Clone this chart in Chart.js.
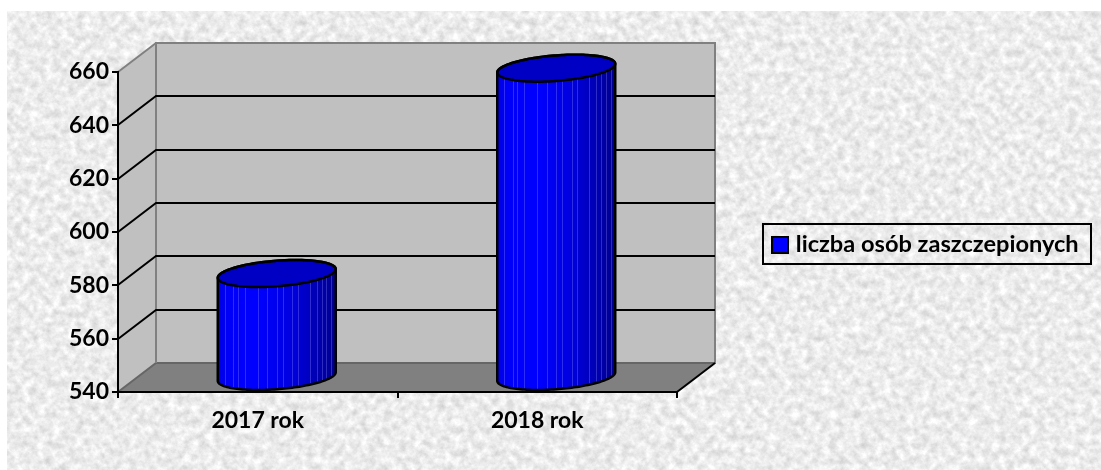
<!DOCTYPE html>
<html lang="pl">
<head>
<meta charset="utf-8">
<title>liczba osób zaszczepionych</title>
<script src="https://cdn.jsdelivr.net/npm/chart.js@4"></script>
<style>
html,body{margin:0;padding:0;background:#fff;width:1101px;height:470px;overflow:hidden}
#tex{position:absolute;left:7px;top:11px;width:1094px;height:459px;
background-image:url("data:image/svg+xml,%3Csvg xmlns='http://www.w3.org/2000/svg' width='1094' height='459'%3E%3Cfilter id='n' x='0' y='0' width='100%25' height='100%25' color-interpolation-filters='sRGB'%3E%3CfeTurbulence type='fractalNoise' baseFrequency='0.13' numOctaves='4' seed='7'/%3E%3CfeColorMatrix values='0.26 0 0 0 0.795 0.26 0 0 0 0.795 0.26 0 0 0 0.795 0 0 0 0 1'/%3E%3C/filter%3E%3Crect width='1094' height='459' filter='url(%23n)'/%3E%3C/svg%3E")}
#c{position:absolute;left:0;top:0}
</style>
</head>
<body>
<div id="tex"></div>
<canvas id="c" width="1101" height="470"></canvas>
<script>
const categories = ['2017 rok', '2018 rok'];
const seriesName = 'liczba osób zaszczepionych';
const seriesValues = [579, 656];
const axisMin = 540, axisMax = 660, axisStep = 20;

const TICK_FONT = {family: 'Lato, "Open Sans", sans-serif', size: 23, weight: 'bold'};
const LEGEND_FONT = {family: 'Lato, "Open Sans", sans-serif', size: 23.6, weight: 'bold'};
const DX = 38, DY = -29;                 // depth of the 3D box
const STRIPES = [.06,.13,.17,.23,.34,.42,.5,.55,.63,.68,.78,.84,.88,.92,.96];

function poly(ctx, pts){ ctx.beginPath(); pts.forEach((p,i)=> i?ctx.lineTo(p[0],p[1]):ctx.moveTo(p[0],p[1])); ctx.closePath(); }

const box3d = {
  id: 'box3d',
  afterLayout(chart){
    const l = chart.legend;
    l.left = 763; l.right = 1091; l.top = 224; l.bottom = 264;
    l.width = 328; l.height = 40;
  },
  beforeDraw(chart){
    const {ctx, chartArea:{left:L,right:R,top:T,bottom:B}, scales:{y}} = chart;
    ctx.save();
    ctx.fillStyle = '#c0c0c0';
    ctx.strokeStyle = '#808080';
    ctx.lineWidth = 2;
    poly(ctx, [[L,T],[L+DX,T+DY],[L+DX,B+DY],[L,B]]); ctx.fill();
    poly(ctx, [[L+DX,T+DY],[R+DX,T+DY],[R+DX,B+DY],[L+DX,B+DY]]); ctx.fill(); ctx.stroke();
    ctx.beginPath(); ctx.moveTo(L,T); ctx.lineTo(L+DX,T+DY); ctx.stroke();
    ctx.fillStyle = '#808080';
    poly(ctx, [[L,B],[L+DX,B+DY],[R+DX,B+DY],[R,B]]); ctx.fill();
    ctx.strokeStyle = '#666666';
    ctx.beginPath(); ctx.moveTo(L,B); ctx.lineTo(L+DX,B+DY); ctx.lineTo(R+DX,B+DY); ctx.stroke();
    ctx.strokeStyle = '#808080';
    ctx.beginPath(); ctx.moveTo(L+DX,T+DY); ctx.lineTo(L+DX,B+DY); ctx.stroke();
    ctx.strokeStyle = '#000';
    y.ticks.forEach(t=>{
      if(t.value===axisMin || t.value===axisMax) return;
      const py = Math.round(y.getPixelForValue(t.value));
      ctx.beginPath(); ctx.moveTo(L,py); ctx.lineTo(L+DX,py+DY); ctx.lineTo(R+DX,py+DY); ctx.stroke();
    });
    ctx.beginPath(); ctx.moveTo(R,B); ctx.lineTo(R+DX,B+DY); ctx.stroke();
    ctx.restore();
  },
  beforeDatasetDraw(chart, args){
    const {ctx, chartArea:{bottom:B}} = chart;
    const meta = args.meta;
    const dx = DX/2, dy = DY/2, ry = 13.5;
    meta.data.forEach(bar=>{
      const hx = bar.width/2, cx = bar.x+dx;
      const yBot = B+dy-1, yTop = bar.y+dy;
      const A = Math.sqrt(hx*hx-dx*dx), t0 = Math.atan2(dx,A);
      const pt = (t,cy)=>[cx+A*Math.cos(t)+dx*Math.sin(t), cy-ry*Math.sin(t)];
      const pts = [];
      for(let i=0;i<=72;i++) pts.push(pt(Math.PI+t0+Math.PI*i/72,yBot));
      const rt = pt(t0,yTop), lt = pt(Math.PI+t0,yTop);
      ctx.save();
      const body = new Path2D();
      body.moveTo(lt[0],lt[1]);
      pts.forEach(p=>body.lineTo(p[0],p[1]));
      body.lineTo(rt[0],rt[1]);
      for(let i=1;i<=72;i++){ const p = pt(t0+Math.PI*i/72,yTop); body.lineTo(p[0],p[1]); }
      body.closePath();
      const g = ctx.createLinearGradient(cx-hx,0,cx+hx,0);
      g.addColorStop(0,'#0000e4'); g.addColorStop(.1,'#0000fa'); g.addColorStop(.35,'#0000ff');
      g.addColorStop(.62,'#0000e0'); g.addColorStop(.85,'#0000b0'); g.addColorStop(1,'#00008c');
      ctx.fillStyle = g; ctx.fill(body);
      ctx.save(); ctx.clip(body);
      ctx.strokeStyle = 'rgba(150,150,255,.3)'; ctx.lineWidth = 1;
      STRIPES.forEach(f=>{
        const x = Math.round(cx-hx+2*hx*f)+.5;
        ctx.beginPath(); ctx.moveTo(x,yTop-20); ctx.lineTo(x,yBot+20); ctx.stroke();
      });
      ctx.restore();
      const cap = new Path2D();
      for(let i=0;i<=96;i++){ const p = pt(2*Math.PI*i/96,yTop); i?cap.lineTo(p[0],p[1]):cap.moveTo(p[0],p[1]); }
      cap.closePath();
      ctx.fillStyle = '#0000c4'; ctx.fill(cap);
      ctx.strokeStyle = '#000'; ctx.lineWidth = 2.5; ctx.lineJoin = 'round';
      ctx.stroke(body); ctx.stroke(cap);
      ctx.restore();
    });
    return false;
  },
  afterDraw(chart){
    const {ctx, legend:l} = chart;
    ctx.save();
    ctx.strokeStyle = '#000'; ctx.lineWidth = 2;
    ctx.strokeRect(l.left, l.top, l.right-l.left, l.bottom-l.top);
    ctx.fillStyle = chart.data.datasets[0].backgroundColor;
    ctx.fillRect(l.left+9, l.top+13, 16, 16);
    ctx.strokeRect(l.left+9, l.top+13, 16, 16);
    ctx.restore();
  }
};

new Chart(document.getElementById('c'), {
  type: 'bar',
  data: {
    labels: categories,
    datasets: [{label: seriesName, data: seriesValues, backgroundColor: '#0000ff', borderColor: '#000', borderWidth: 2,
      categoryPercentage: 1, barPercentage: 118/279.5}]
  },
  plugins: [box3d],
  options: {
    responsive: false, animation: false, devicePixelRatio: 1,
    layout: {padding: {left: 0, top: 72, right: 424, bottom: 0}},
    plugins: {
      tooltip: {enabled: false},
      title: {display: false},
      legend: {
        position: 'chartArea',
        align: 'center',
        labels: {boxWidth: 12, boxHeight: 12, padding: 9, color: '#000', font: LEGEND_FONT}
      }
    },
    scales: {
      x: {
        grid: {display: true, drawOnChartArea: false, drawTicks: true, tickLength: 6, color: '#000', lineWidth: 2},
        border: {display: true, color: '#000', width: 2},
        ticks: {color: '#000', font: TICK_FONT, padding: 9, maxRotation: 0},
        afterFit(s){ s.height = 78; }
      },
      y: {
        min: axisMin, max: axisMax,
        grid: {display: true, drawOnChartArea: false, drawTicks: true, tickLength: 6, color: '#000', lineWidth: 2},
        border: {display: true, color: '#000', width: 2},
        ticks: {stepSize: axisStep, color: '#000', font: TICK_FONT, padding: 3},
        afterFit(s){ s.width = 118; }
      }
    }
  }
});
</script>
</body>
</html>
